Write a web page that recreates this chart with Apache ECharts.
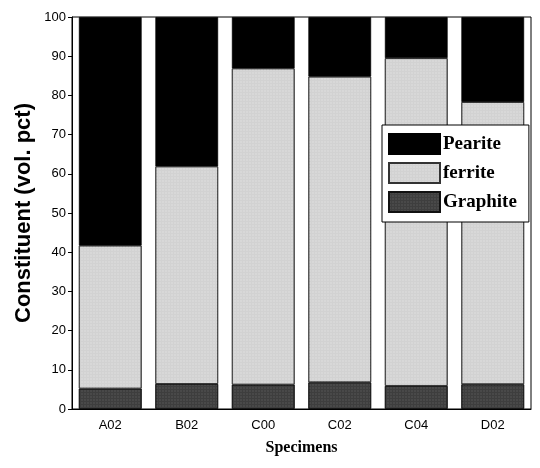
<!DOCTYPE html>
<html>
<head>
<meta charset="utf-8">
<script src="https://cdn.jsdelivr.net/npm/echarts@6/dist/echarts.min.js"></script>
<style>html,body{margin:0;padding:0;background:#fff}#c{width:540px;height:468px}</style>
</head>
<body>
<div id="c"></div>
<script>
const specimens = ['A02', 'B02', 'C00', 'C02', 'C04', 'D02'];
const graphite = [5.2, 6.4, 6.2, 6.8, 5.9, 6.3];
const ferrite = [36.5, 55.5, 80.7, 78.0, 83.6, 72.0];
const pearlite = [58.3, 38.1, 13.1, 15.2, 10.5, 21.7];
const yTicks = [0, 10, 20, 30, 40, 50, 60, 70, 80, 90, 100];

const chart = echarts.init(document.getElementById('c'), null, {renderer: 'canvas'});
const common = {type: 'bar', stack: 'total', barCategoryGap: '18%'};
chart.setOption({
  animation: false,
  backgroundColor: '#fff',
  grid: {left: 72, right: 9, top: 17, bottom: 59, show: true, borderColor: '#000', borderWidth: 1, backgroundColor: 'transparent'},
  legend: {
    orient: 'vertical', left: 382, top: 125, width: 149,
    backgroundColor: '#fff', borderColor: '#000', borderWidth: 1,
    padding: [8, 12, 9, 6], itemGap: 7, itemWidth: 51, itemHeight: 20,
    icon: 'rect',
    data: ['Pearite', 'ferrite', 'Graphite'],
    textStyle: {fontFamily: 'Liberation Serif', fontWeight: 'bold', fontSize: 19, color: '#000', padding: [0, 0, 0, -2]}
  },
  xAxis: {
    type: 'category', data: specimens,
    axisLine: {lineStyle: {color: '#000'}}, axisTick: {show: false},
    axisLabel: {color: '#000', fontFamily: 'Liberation Sans', fontSize: 13, margin: 10},
    name: 'Specimens', nameLocation: 'middle', nameGap: 31,
    nameTextStyle: {fontFamily: 'Liberation Serif', fontWeight: 'bold', fontSize: 16, color: '#000'}
  },
  yAxis: {
    type: 'value', min: 0, max: 100, interval: 10,
    axisLine: {show: true, lineStyle: {color: '#000'}},
    axisTick: {show: true, length: 4, lineStyle: {color: '#000'}},
    splitLine: {show: false},
    axisLabel: {color: '#000', fontFamily: 'Liberation Sans', fontSize: 13, margin: 6,
      formatter: v => yTicks.includes(v) ? String(v) : ''},
    name: 'Constituent (vol. pct)', nameLocation: 'middle', nameGap: 37, nameMoveOverlap: false,
    nameTextStyle: {fontFamily: 'Liberation Sans', fontWeight: 'bold', fontSize: 22, color: '#000'}
  },
  series: [
    Object.assign({}, common, {name: 'Graphite', data: graphite,
      itemStyle: {color: '#3e3e3e', borderColor: '#111', borderWidth: 0.8,
        decal: {symbol: 'rect', symbolSize: 0.6, dashArrayX: [2, 1], dashArrayY: [2, 1], color: 'rgba(150,150,150,0.45)', rotation: 0}}}),
    Object.assign({}, common, {name: 'ferrite', data: ferrite,
      itemStyle: {color: '#d2d2d2', borderColor: '#333', borderWidth: 0.8,
        decal: {symbol: 'rect', symbolSize: 0.6, dashArrayX: [2, 1], dashArrayY: [2, 1], color: 'rgba(255,255,255,0.45)', rotation: 0}}}),
    Object.assign({}, common, {name: 'Pearite', data: pearlite,
      itemStyle: {color: '#000', borderColor: '#000', borderWidth: 0.8}})
  ]
});
</script>
</body>
</html>
